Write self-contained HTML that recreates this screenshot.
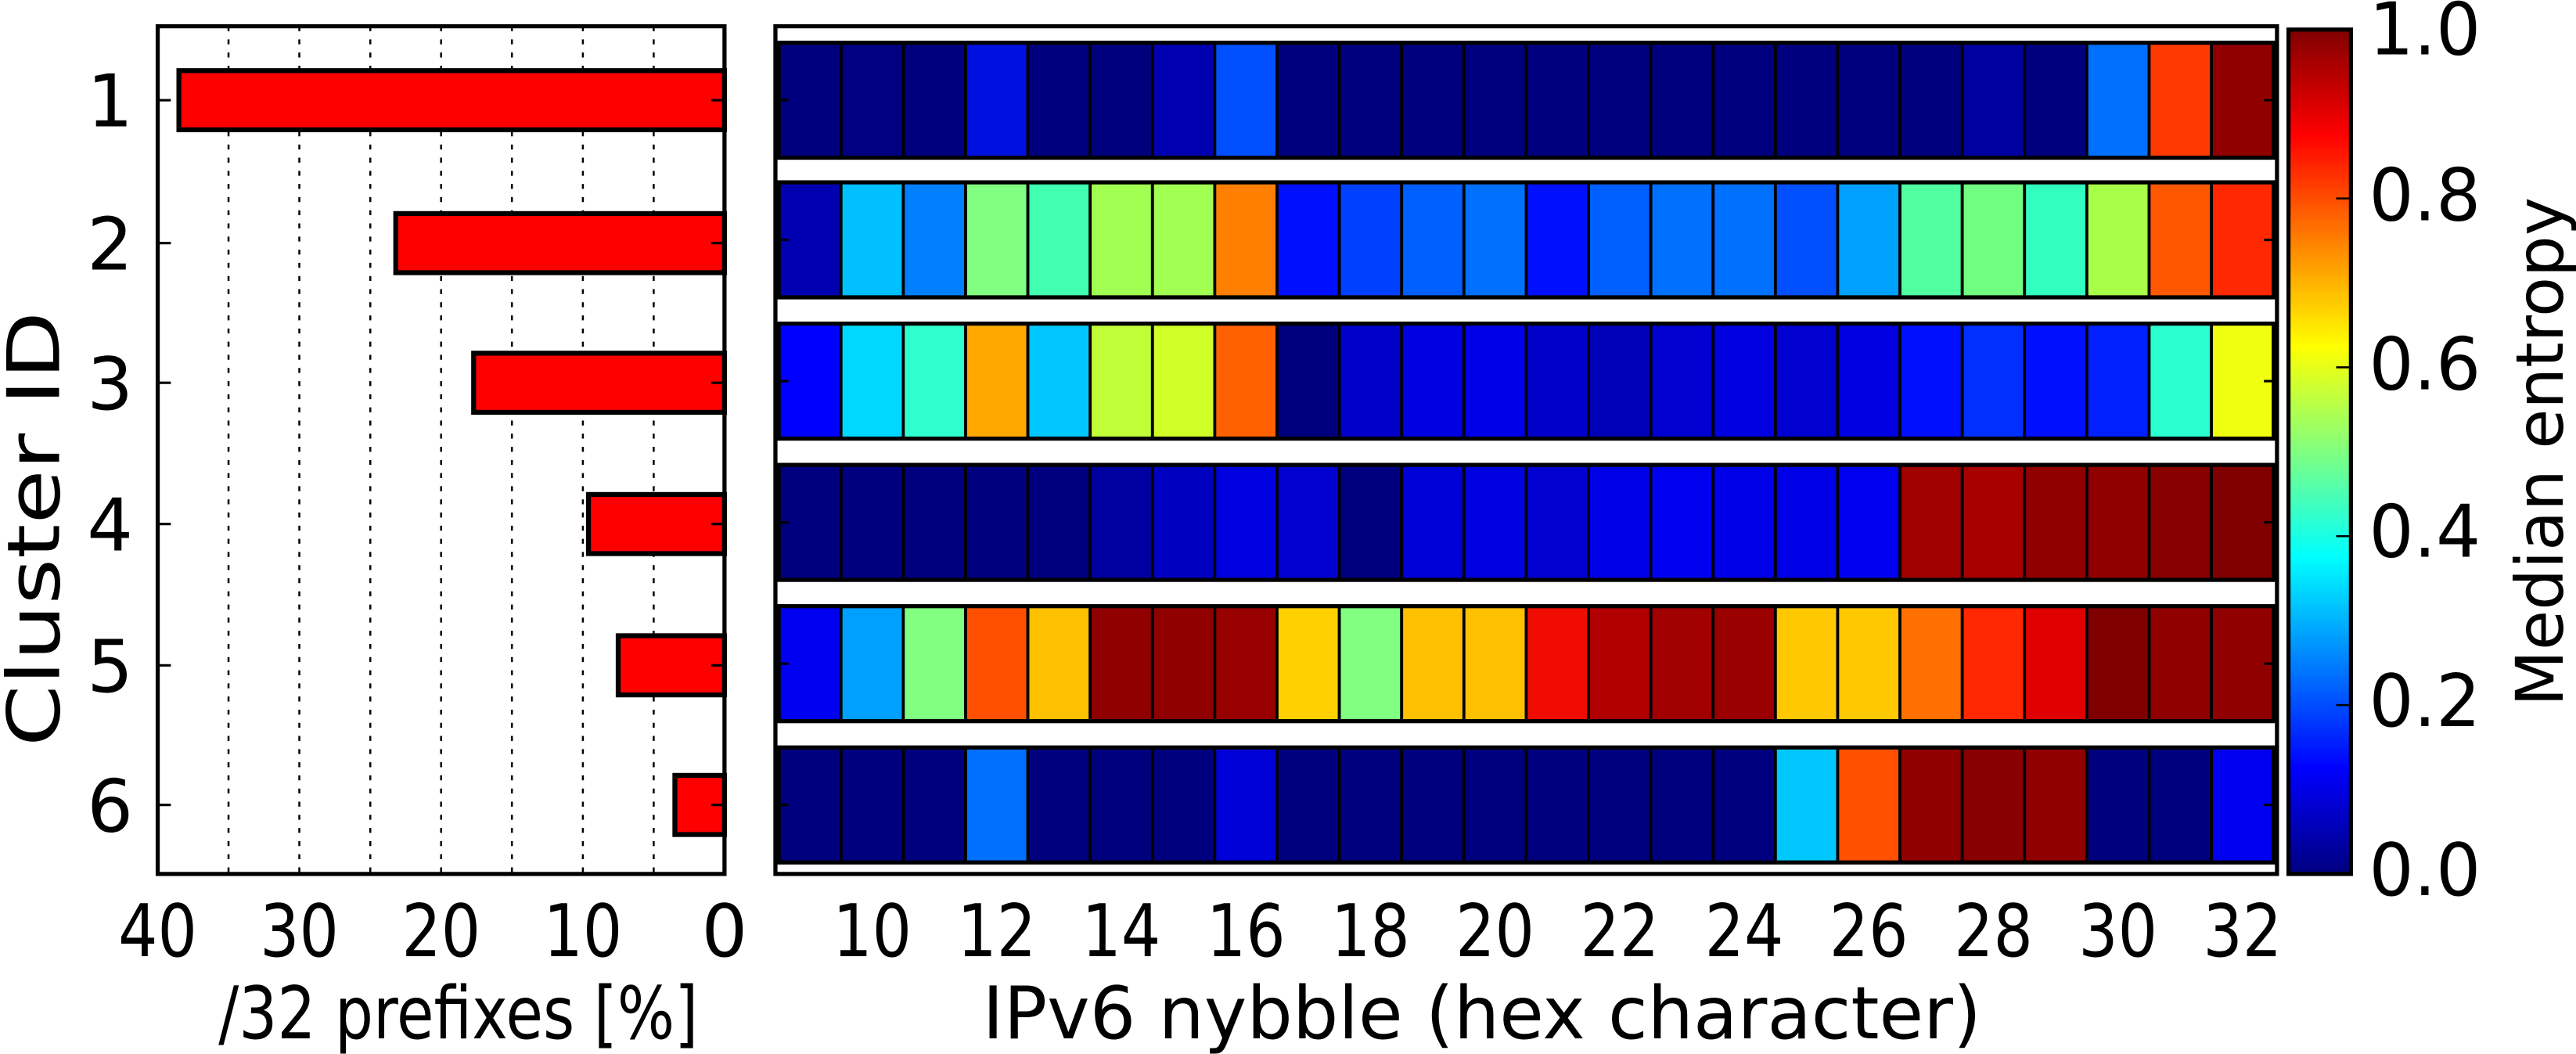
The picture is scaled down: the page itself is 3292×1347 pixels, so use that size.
<!DOCTYPE html>
<html><head><meta charset="utf-8"><style>html,body{margin:0;padding:0;background:#fff}svg{display:block}</style></head>
<body>
<svg width="3292" height="1347" viewBox="0 0 1568 641.6" preserveAspectRatio="none" xmlns="http://www.w3.org/2000/svg" font-family="'DejaVu Sans','Liberation Sans',sans-serif">
<defs>
<linearGradient id="jet" x1="0" y1="1" x2="0" y2="0">
<stop offset="0" stop-color="#00007f"/><stop offset="0.125" stop-color="#0000ff"/><stop offset="0.375" stop-color="#00ffff"/><stop offset="0.625" stop-color="#ffff00"/><stop offset="0.875" stop-color="#ff0000"/><stop offset="1" stop-color="#800000"/>
</linearGradient>
</defs>
<g stroke="#000" stroke-width="1.2" stroke-dasharray="3,5">
<line x1="139.1" y1="16" x2="139.1" y2="532"/><line x1="182.2" y1="16" x2="182.2" y2="532"/><line x1="225.4" y1="16" x2="225.4" y2="532"/><line x1="268.5" y1="16" x2="268.5" y2="532"/><line x1="311.6" y1="16" x2="311.6" y2="532"/><line x1="354.8" y1="16" x2="354.8" y2="532"/><line x1="397.9" y1="16" x2="397.9" y2="532"/>
</g>
<g fill="#ff0000" stroke="#000" stroke-width="3">
<rect x="108.9" y="43" width="332.1" height="36"/>
<rect x="240.9" y="130" width="200.1" height="36"/>
<rect x="288.3" y="215" width="152.7" height="36"/>
<rect x="358.2" y="301" width="82.8" height="36"/>
<rect x="376.3" y="387" width="64.7" height="36"/>
<rect x="410.8" y="472" width="30.2" height="36"/>
</g>
<rect x="96" y="16" width="345" height="516" fill="none" stroke="#000" stroke-width="2.5"/>
<g stroke="#000" stroke-width="1.5">
<line x1="96" y1="61" x2="104" y2="61"/><line x1="96" y1="148" x2="104" y2="148"/><line x1="96" y1="233" x2="104" y2="233"/><line x1="96" y1="319" x2="104" y2="319"/><line x1="96" y1="405" x2="104" y2="405"/><line x1="96" y1="490" x2="104" y2="490"/>
<line x1="433" y1="61" x2="441" y2="61"/><line x1="433" y1="148" x2="441" y2="148"/><line x1="433" y1="233" x2="441" y2="233"/><line x1="433" y1="319" x2="441" y2="319"/><line x1="433" y1="405" x2="441" y2="405"/><line x1="433" y1="490" x2="441" y2="490"/>
</g>
<g font-size="44" text-anchor="end" fill="#000">
<text x="81" y="77">1</text><text x="81" y="164">2</text><text x="81" y="249">3</text><text x="81" y="335">4</text><text x="81" y="421">5</text><text x="81" y="506">6</text>
</g>
<g font-size="44" text-anchor="middle" fill="#000">
<text x="96" y="582" textLength="48" lengthAdjust="spacingAndGlyphs">40</text><text x="182.2" y="582" textLength="48" lengthAdjust="spacingAndGlyphs">30</text><text x="268.5" y="582" textLength="48" lengthAdjust="spacingAndGlyphs">20</text><text x="354.8" y="582" textLength="48" lengthAdjust="spacingAndGlyphs">10</text><text x="441" y="582">0</text>
<text x="279" y="632" textLength="292" lengthAdjust="spacingAndGlyphs">/32 prefixes [%]</text>
</g>
<text font-size="44" text-anchor="middle" textLength="265" lengthAdjust="spacingAndGlyphs" transform="translate(36,322) rotate(-90)">Cluster ID</text>

<g stroke="#000" stroke-width="1.8">
<g transform="translate(0,26)">
<rect x="474" width="37.92" height="70" fill="#00007f"/><rect x="511.92" width="37.92" height="70" fill="#000080"/><rect x="549.83" width="37.92" height="70" fill="#00007f"/><rect x="587.75" width="37.92" height="70" fill="#0010e0"/><rect x="625.67" width="37.92" height="70" fill="#00007f"/><rect x="663.58" width="37.92" height="70" fill="#00007f"/><rect x="701.5" width="37.92" height="70" fill="#0000b0"/><rect x="739.42" width="37.92" height="70" fill="#0050ff"/><rect x="777.33" width="37.92" height="70" fill="#00007f"/><rect x="815.25" width="37.92" height="70" fill="#00007f"/><rect x="853.17" width="37.92" height="70" fill="#00007f"/><rect x="891.08" width="37.92" height="70" fill="#00007f"/><rect x="929" width="37.92" height="70" fill="#00007f"/><rect x="966.92" width="37.92" height="70" fill="#00007f"/><rect x="1004.83" width="37.92" height="70" fill="#00007f"/><rect x="1042.75" width="37.92" height="70" fill="#00007f"/><rect x="1080.67" width="37.92" height="70" fill="#00007f"/><rect x="1118.58" width="37.92" height="70" fill="#00007f"/><rect x="1156.5" width="37.92" height="70" fill="#00007f"/><rect x="1194.42" width="37.92" height="70" fill="#0000a0"/><rect x="1232.33" width="37.92" height="70" fill="#00007f"/><rect x="1270.25" width="37.92" height="70" fill="#0070ff"/><rect x="1308.17" width="37.92" height="70" fill="#ff3a00"/><rect x="1346.08" width="37.92" height="70" fill="#900000"/>
</g>
<g transform="translate(0,111)">
<rect x="474" width="37.92" height="70" fill="#0000b0"/><rect x="511.92" width="37.92" height="70" fill="#00c0ff"/><rect x="549.83" width="37.92" height="70" fill="#0080ff"/><rect x="587.75" width="37.92" height="70" fill="#80ff80"/><rect x="625.67" width="37.92" height="70" fill="#40ffb0"/><rect x="663.58" width="37.92" height="70" fill="#a0ff50"/><rect x="701.5" width="37.92" height="70" fill="#a0ff50"/><rect x="739.42" width="37.92" height="70" fill="#ff8000"/><rect x="777.33" width="37.92" height="70" fill="#0010ff"/><rect x="815.25" width="37.92" height="70" fill="#0040ff"/><rect x="853.17" width="37.92" height="70" fill="#0060ff"/><rect x="891.08" width="37.92" height="70" fill="#0070ff"/><rect x="929" width="37.92" height="70" fill="#0010ff"/><rect x="966.92" width="37.92" height="70" fill="#0060ff"/><rect x="1004.83" width="37.92" height="70" fill="#0070ff"/><rect x="1042.75" width="37.92" height="70" fill="#0070ff"/><rect x="1080.67" width="37.92" height="70" fill="#0050ff"/><rect x="1118.58" width="37.92" height="70" fill="#00a0ff"/><rect x="1156.5" width="37.92" height="70" fill="#50ffa0"/><rect x="1194.42" width="37.92" height="70" fill="#70ff80"/><rect x="1232.33" width="37.92" height="70" fill="#30ffc0"/><rect x="1270.25" width="37.92" height="70" fill="#a8ff48"/><rect x="1308.17" width="37.92" height="70" fill="#ff5800"/><rect x="1346.08" width="37.92" height="70" fill="#ff2800"/>
</g>
<g transform="translate(0,197)">
<rect x="474" width="37.92" height="70" fill="#0000ff"/><rect x="511.92" width="37.92" height="70" fill="#00d8ff"/><rect x="549.83" width="37.92" height="70" fill="#30ffd0"/><rect x="587.75" width="37.92" height="70" fill="#ffa800"/><rect x="625.67" width="37.92" height="70" fill="#00c8ff"/><rect x="663.58" width="37.92" height="70" fill="#c0ff38"/><rect x="701.5" width="37.92" height="70" fill="#d0ff28"/><rect x="739.42" width="37.92" height="70" fill="#ff6000"/><rect x="777.33" width="37.92" height="70" fill="#00007f"/><rect x="815.25" width="37.92" height="70" fill="#0000c8"/><rect x="853.17" width="37.92" height="70" fill="#0000e0"/><rect x="891.08" width="37.92" height="70" fill="#0000e8"/><rect x="929" width="37.92" height="70" fill="#0000c8"/><rect x="966.92" width="37.92" height="70" fill="#0000b8"/><rect x="1004.83" width="37.92" height="70" fill="#0000d0"/><rect x="1042.75" width="37.92" height="70" fill="#0000e0"/><rect x="1080.67" width="37.92" height="70" fill="#0000d0"/><rect x="1118.58" width="37.92" height="70" fill="#0000e0"/><rect x="1156.5" width="37.92" height="70" fill="#0010ff"/><rect x="1194.42" width="37.92" height="70" fill="#0030ff"/><rect x="1232.33" width="37.92" height="70" fill="#0010ff"/><rect x="1270.25" width="37.92" height="70" fill="#0020ff"/><rect x="1308.17" width="37.92" height="70" fill="#2affd0"/><rect x="1346.08" width="37.92" height="70" fill="#f0ff10"/>
</g>
<g transform="translate(0,283)">
<rect x="474" width="37.92" height="70" fill="#00007f"/><rect x="511.92" width="37.92" height="70" fill="#00007f"/><rect x="549.83" width="37.92" height="70" fill="#00007f"/><rect x="587.75" width="37.92" height="70" fill="#00007f"/><rect x="625.67" width="37.92" height="70" fill="#00007f"/><rect x="663.58" width="37.92" height="70" fill="#0000a0"/><rect x="701.5" width="37.92" height="70" fill="#0000c0"/><rect x="739.42" width="37.92" height="70" fill="#0000e0"/><rect x="777.33" width="37.92" height="70" fill="#0000d0"/><rect x="815.25" width="37.92" height="70" fill="#00007f"/><rect x="853.17" width="37.92" height="70" fill="#0000d8"/><rect x="891.08" width="37.92" height="70" fill="#0000e0"/><rect x="929" width="37.92" height="70" fill="#0000d0"/><rect x="966.92" width="37.92" height="70" fill="#0000e8"/><rect x="1004.83" width="37.92" height="70" fill="#0000f0"/><rect x="1042.75" width="37.92" height="70" fill="#0000e8"/><rect x="1080.67" width="37.92" height="70" fill="#0000e8"/><rect x="1118.58" width="37.92" height="70" fill="#0000f0"/><rect x="1156.5" width="37.92" height="70" fill="#a00000"/><rect x="1194.42" width="37.92" height="70" fill="#a80000"/><rect x="1232.33" width="37.92" height="70" fill="#900000"/><rect x="1270.25" width="37.92" height="70" fill="#900000"/><rect x="1308.17" width="37.92" height="70" fill="#880000"/><rect x="1346.08" width="37.92" height="70" fill="#800000"/>
</g>
<g transform="translate(0,369)">
<rect x="474" width="37.92" height="70" fill="#0000f0"/><rect x="511.92" width="37.92" height="70" fill="#00a0ff"/><rect x="549.83" width="37.92" height="70" fill="#80ff80"/><rect x="587.75" width="37.92" height="70" fill="#ff5000"/><rect x="625.67" width="37.92" height="70" fill="#ffc000"/><rect x="663.58" width="37.92" height="70" fill="#900000"/><rect x="701.5" width="37.92" height="70" fill="#900000"/><rect x="739.42" width="37.92" height="70" fill="#980000"/><rect x="777.33" width="37.92" height="70" fill="#ffd000"/><rect x="815.25" width="37.92" height="70" fill="#80ff80"/><rect x="853.17" width="37.92" height="70" fill="#ffc000"/><rect x="891.08" width="37.92" height="70" fill="#ffc000"/><rect x="929" width="37.92" height="70" fill="#f00c00"/><rect x="966.92" width="37.92" height="70" fill="#b00000"/><rect x="1004.83" width="37.92" height="70" fill="#a00000"/><rect x="1042.75" width="37.92" height="70" fill="#9a0000"/><rect x="1080.67" width="37.92" height="70" fill="#ffc800"/><rect x="1118.58" width="37.92" height="70" fill="#ffc800"/><rect x="1156.5" width="37.92" height="70" fill="#ff7000"/><rect x="1194.42" width="37.92" height="70" fill="#ff2800"/><rect x="1232.33" width="37.92" height="70" fill="#e00000"/><rect x="1270.25" width="37.92" height="70" fill="#800000"/><rect x="1308.17" width="37.92" height="70" fill="#900000"/><rect x="1346.08" width="37.92" height="70" fill="#900000"/>
</g>
<g transform="translate(0,455)">
<rect x="474" width="37.92" height="70" fill="#00007f"/><rect x="511.92" width="37.92" height="70" fill="#00007f"/><rect x="549.83" width="37.92" height="70" fill="#00007f"/><rect x="587.75" width="37.92" height="70" fill="#0070ff"/><rect x="625.67" width="37.92" height="70" fill="#00007f"/><rect x="663.58" width="37.92" height="70" fill="#00007f"/><rect x="701.5" width="37.92" height="70" fill="#00007f"/><rect x="739.42" width="37.92" height="70" fill="#0000d8"/><rect x="777.33" width="37.92" height="70" fill="#00007f"/><rect x="815.25" width="37.92" height="70" fill="#00007f"/><rect x="853.17" width="37.92" height="70" fill="#00007f"/><rect x="891.08" width="37.92" height="70" fill="#00007f"/><rect x="929" width="37.92" height="70" fill="#00007f"/><rect x="966.92" width="37.92" height="70" fill="#00007f"/><rect x="1004.83" width="37.92" height="70" fill="#00007f"/><rect x="1042.75" width="37.92" height="70" fill="#00007f"/><rect x="1080.67" width="37.92" height="70" fill="#00c8ff"/><rect x="1118.58" width="37.92" height="70" fill="#ff5000"/><rect x="1156.5" width="37.92" height="70" fill="#900000"/><rect x="1194.42" width="37.92" height="70" fill="#880000"/><rect x="1232.33" width="37.92" height="70" fill="#900000"/><rect x="1270.25" width="37.92" height="70" fill="#00007f"/><rect x="1308.17" width="37.92" height="70" fill="#00007f"/><rect x="1346.08" width="37.92" height="70" fill="#0000f0"/>
</g>
</g>
<g fill="none" stroke="#000" stroke-width="2.5">
<rect x="474" y="26" width="910" height="70"/><rect x="474" y="111" width="910" height="70"/><rect x="474" y="197" width="910" height="70"/><rect x="474" y="283" width="910" height="70"/><rect x="474" y="369" width="910" height="70"/><rect x="474" y="455" width="910" height="70"/>
</g>
<rect x="472" y="16" width="914" height="516" fill="none" stroke="#000" stroke-width="2.5"/>
<g stroke="#000" stroke-width="1.5">
<line x1="472" y1="61" x2="480" y2="61"/><line x1="472" y1="146" x2="480" y2="146"/><line x1="472" y1="232" x2="480" y2="232"/><line x1="472" y1="318" x2="480" y2="318"/><line x1="472" y1="404" x2="480" y2="404"/><line x1="472" y1="490" x2="480" y2="490"/>
<line x1="1378" y1="61" x2="1386" y2="61"/><line x1="1378" y1="146" x2="1386" y2="146"/><line x1="1378" y1="232" x2="1386" y2="232"/><line x1="1378" y1="318" x2="1386" y2="318"/><line x1="1378" y1="404" x2="1386" y2="404"/><line x1="1378" y1="490" x2="1386" y2="490"/>
</g>
<g font-size="44" text-anchor="middle" fill="#000">
<text x="530.9" y="582" textLength="48" lengthAdjust="spacingAndGlyphs">10</text>
<text x="606.7" y="582" textLength="48" lengthAdjust="spacingAndGlyphs">12</text>
<text x="682.5" y="582" textLength="48" lengthAdjust="spacingAndGlyphs">14</text>
<text x="758.4" y="582" textLength="48" lengthAdjust="spacingAndGlyphs">16</text>
<text x="834.2" y="582" textLength="48" lengthAdjust="spacingAndGlyphs">18</text>
<text x="910" y="582" textLength="48" lengthAdjust="spacingAndGlyphs">20</text>
<text x="985.9" y="582" textLength="48" lengthAdjust="spacingAndGlyphs">22</text>
<text x="1061.7" y="582" textLength="48" lengthAdjust="spacingAndGlyphs">24</text>
<text x="1137.5" y="582" textLength="48" lengthAdjust="spacingAndGlyphs">26</text>
<text x="1213.4" y="582" textLength="48" lengthAdjust="spacingAndGlyphs">28</text>
<text x="1289.2" y="582" textLength="48" lengthAdjust="spacingAndGlyphs">30</text>
<text x="1365" y="582" textLength="48" lengthAdjust="spacingAndGlyphs">32</text>
<text x="902" y="632" textLength="608" lengthAdjust="spacingAndGlyphs">IPv6 nybble (hex character)</text>
</g>
<rect x="1393" y="18" width="38" height="514" fill="url(#jet)" stroke="#000" stroke-width="2.5"/>
<g stroke="#000" stroke-width="1.2">
<line x1="1422" y1="429.2" x2="1431" y2="429.2"/><line x1="1422" y1="326.4" x2="1431" y2="326.4"/><line x1="1422" y1="223.6" x2="1431" y2="223.6"/><line x1="1422" y1="120.8" x2="1431" y2="120.8"/>
</g>
<g font-size="44" fill="#000">
<text x="1442" y="545" textLength="68" lengthAdjust="spacingAndGlyphs">0.0</text><text x="1442" y="442" textLength="68" lengthAdjust="spacingAndGlyphs">0.2</text><text x="1442" y="339" textLength="68" lengthAdjust="spacingAndGlyphs">0.4</text><text x="1442" y="237" textLength="68" lengthAdjust="spacingAndGlyphs">0.6</text><text x="1442" y="134" textLength="68" lengthAdjust="spacingAndGlyphs">0.8</text><text x="1442" y="33" textLength="68" lengthAdjust="spacingAndGlyphs">1.0</text>
</g>
<text font-size="40" text-anchor="middle" textLength="310" lengthAdjust="spacingAndGlyphs" transform="translate(1560,275) rotate(-90)">Median entropy</text>
</svg>
</body></html>
